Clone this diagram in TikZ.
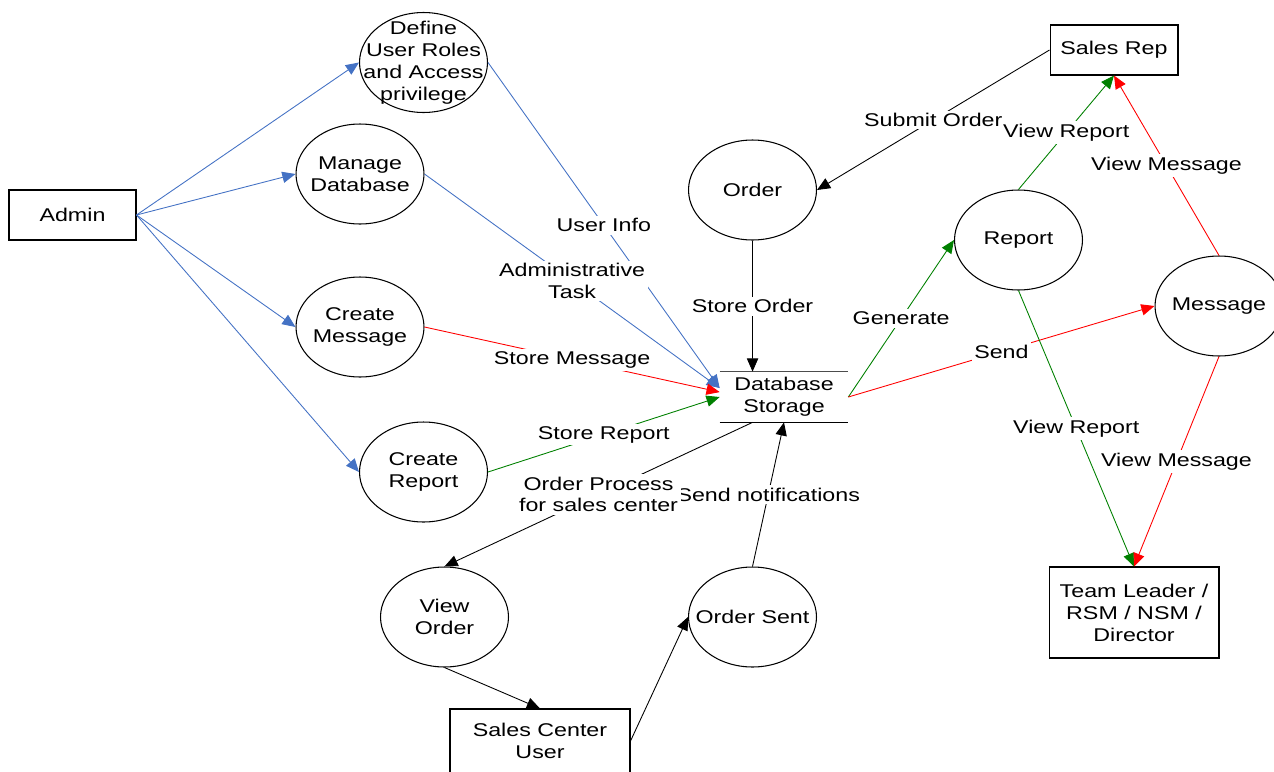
\documentclass[tikz,border=0pt]{standalone}
\usepackage{fontspec}
\setmainfont{Liberation Sans}[FakeStretch=1.26]
\usetikzlibrary{shapes.geometric,arrows.meta}
\definecolor{flowblue}{RGB}{68,114,196}
\definecolor{flowred}{RGB}{255,0,0}
\definecolor{flowgreen}{RGB}{0,128,0}

\begin{document}
\begin{tikzpicture}[x=0.02cm,y=-0.02cm,
  every node/.style={font=\fontsize{10.5}{12.5}\selectfont, align=center},
  proc/.style={draw, ellipse, minimum width=2.56cm, minimum height=2cm, inner sep=0pt, line width=0.6pt,
    label={[inner sep=0pt]center:{#1}}},
  ext/.style={draw, rectangle, inner sep=0pt, line width=0.6pt},
  flow/.style={line width=0.5pt, -{Triangle[length=7.5pt,width=6.4pt]}},
  lbl/.style={fill=white, text=black, inner sep=1.5pt},
]
\useasboundingbox (0,0) rectangle (1274,771);

% external entities
\node[ext, minimum width=2.54cm, minimum height=1cm] (admin) at (72.5,215) {Admin};
\node[ext, minimum width=2.56cm, minimum height=1cm] (salesrep) at (1114,50) {Sales Rep};
\node[ext, minimum width=3.4cm, minimum height=1.82cm] (tl) at (1134,612.5) {Team Leader /\\RSM / NSM /\\Director};
\node[ext, minimum width=3.6cm, minimum height=1.28cm] (scu) at (540,741) {Sales Center\\User};

% processes (fixed-size bubbles, text set on top)
\node[proc={Define\\User Roles\\and Access\\privilege}] (define) at (423.5,62.5) {};
\node[proc={Manage\\Database}] (manage) at (360,174) {};
\node[proc={Create\\Message}] (cmsg) at (360,327) {};
\node[proc={Create\\Report}] (crep) at (423.5,472) {};
\node[proc={Order}] (order) at (752.5,190) {};
\node[proc={Report}] (report) at (1018.5,240) {};
\node[proc={Message}] (message) at (1219,306) {};
\node[proc={View\\Order}] (vorder) at (444.5,617) {};
\node[proc={Order Sent}] (osent) at (752.5,617) {};

% data store
\node[minimum width=2.56cm, minimum height=1cm, inner sep=0pt] (db) at (784,397) {Database\\Storage};
\draw[line width=0.6pt, black!70] (db.north west) -- (db.north east);
\draw[line width=0.6pt] (db.south west) -- (db.south east);

% admin flows
\draw[flow, flowblue] (admin.east) -- (define.west);
\draw[flow, flowblue] (admin.east) -- (manage.west);
\draw[flow, flowblue] (admin.east) -- (cmsg.west);
\draw[flow, flowblue] (admin.east) -- (crep.west);

% into the data store
\draw[flow, flowblue] (define.east) -- node[lbl] {User Info} ([yshift=5.1pt]db.west);
\draw[flow, flowblue] (manage.east) -- node[lbl] {Administrative\\Task} ([yshift=5.1pt]db.west);
\draw[flow, flowred] (cmsg.east) -- node[lbl] {Store Message} ([yshift=2.8pt]db.west);
\draw[flow, flowgreen] (crep.east) -- node[lbl] {Store Report} (db.west);
\draw[flow, black] (order.south) -- node[lbl] {Store Order} ([xshift=-17.9pt]db.north);

% sales rep side
\draw[flow, black] (salesrep.west) -- node[lbl] {Submit Order} (order.east);
\draw[flow, flowgreen] (db.east) -- node[lbl] {Generate} (report.west);
\draw[flow, flowred] (db.east) -- node[lbl] {Send} (message.west);
\draw[flow, flowgreen] (report.north) -- node[lbl] {View Report} (salesrep.south);
\draw[flow, flowred] (message.north) -- node[lbl] {View Message} (salesrep.south);
\draw[flow, flowgreen] (report.south) -- node[lbl] {View Report} (tl.north);
\draw[flow, flowred] (message.south) -- node[lbl] {View Message} (tl.north);

% sales center side
\draw[flow, black] (osent.north) -- node[lbl] {Send notifications} (db.south);
\draw[flow, black] ([xshift=-17.9pt]db.south) -- node[lbl] {Order Process\\for sales center} (vorder.north);
\draw[flow, black] (vorder.south) -- (scu.north);
\draw[flow, black] (scu.east) -- (osent.west);
\end{tikzpicture}
\end{document}
